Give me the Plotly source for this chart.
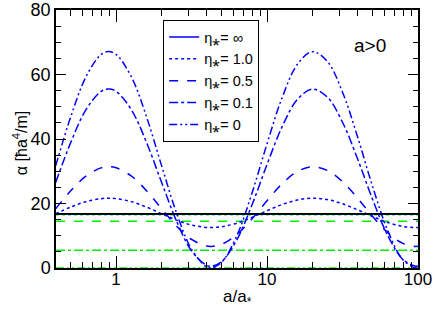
import plotly.graph_objects as go

# a/a* sample positions
a_ratio = [0.398, 0.501, 0.631, 0.794, 0.891, 1.0, 1.259, 1.585, 1.995, 2.512, 3.162,
           3.981, 4.266, 5.012, 6.310, 7.943, 10.0, 12.59, 15.85, 19.95, 25.12, 31.62,
           39.81, 50.12, 63.10, 79.43, 96.6, 100.0]

alpha_eta_1p0 = [16.83, 18.89, 20.56, 21.50, 21.62, 21.51, 20.58, 18.92, 16.87, 14.86, 13.33,
                 12.58, 12.54, 12.79, 13.90, 15.68, 17.76, 19.69, 21.08, 21.62, 21.21, 19.92,
                 18.04, 15.95, 14.11, 12.89, 12.54, 12.55]
alpha_eta_0p5 = [18.37, 23.95, 28.49, 31.05, 31.39, 31.07, 28.56, 24.04, 18.46, 13.01, 8.84,
                 6.81, 6.70, 7.37, 10.39, 15.23, 20.88, 26.14, 29.91, 31.38, 30.25, 26.76,
                 21.64, 15.96, 10.96, 7.64, 6.70, 6.73]
alpha_eta_0p1 = [26.52, 38.93, 49.05, 54.73, 55.49, 54.78, 49.18, 39.13, 26.73, 14.60, 5.30,
                 0.80, 0.55, 2.03, 8.75, 19.53, 32.11, 43.82, 52.20, 55.48, 52.96, 45.19,
                 33.80, 21.14, 10.02, 2.64, 0.55, 0.62]
alpha_eta_0 = [31.71, 46.87, 59.23, 66.17, 67.10, 66.23, 59.40, 47.11, 31.97, 17.15, 5.80,
               0.30, 0.00, 1.81, 10.02, 23.19, 38.54, 52.84, 63.08, 67.08, 64.02, 54.52,
               40.61, 25.15, 11.56, 2.55, 0.00, 0.08]
alpha_eta_inf = 16.78

# horizontal reference levels
x_ends = [0.4, 100.0]
black_level = 16.8
green_levels = [16.49, 14.53, 5.54, 0.0]

legend_labels = ["η⁎= ∞", "η⁎= 1.0", "η⁎= 0.5", "η⁎= 0.1", "η⁎= 0"]
x_tick_vals = [1, 10, 100]
x_tick_text = ["1", "10", "100"]
y_tick_vals = [0, 20, 40, 60, 80]

blue = "#0000ff"
green = "#00ee00"
dashes = ["dot", "dash", "dashdot", "8px,3px,2px,3px,2px,3px"]

fig = go.Figure()

for lvl, d in zip(green_levels, dashes):
    fig.add_trace(go.Scatter(x=x_ends, y=[lvl, lvl], mode="lines",
                             line=dict(color=green, width=1.5, dash=d), showlegend=False))

fig.add_trace(go.Scatter(x=x_ends, y=[alpha_eta_inf, alpha_eta_inf], mode="lines",
                         line=dict(color=blue, width=1.5), name=legend_labels[0]))

series = [alpha_eta_1p0, alpha_eta_0p5, alpha_eta_0p1, alpha_eta_0]
for lab, ys, d in zip(legend_labels[1:], series, dashes):
    fig.add_trace(go.Scatter(x=a_ratio, y=ys, mode="lines", name=lab,
                             line=dict(color=blue, width=1.5, dash=d, shape="spline", smoothing=1.0)))

fig.add_trace(go.Scatter(x=x_ends, y=[black_level, black_level], mode="lines",
                         line=dict(color="black", width=1.7), showlegend=False))

minor_x = [0.4, 0.5, 0.6, 0.7, 0.8, 0.9] + list(range(2, 10)) + list(range(20, 100, 10))

fig.update_layout(
    width=436, height=310,
    margin=dict(l=56, r=18, t=10, b=42),
    paper_bgcolor="white", plot_bgcolor="white",
    font=dict(family="Liberation Sans, Arial, sans-serif", color="black", size=17),
    showlegend=True,
    legend=dict(x=0.296, y=0.961, xanchor="left", yanchor="top",
                bgcolor="white", bordercolor="black", borderwidth=1,
                font=dict(size=14.5), tracegroupgap=0, itemwidth=30),
    xaxis=dict(type="log", range=[-0.398, 2.0], showgrid=False, zeroline=False,
               automargin=False, ticklabeloverflow="allow",
               showline=True, linecolor="black", linewidth=1.5, mirror="ticks",
               ticks="inside", ticklen=12, tickcolor="black", tickwidth=1,
               tickvals=x_tick_vals, ticktext=x_tick_text,
               tickfont=dict(size=17), ticklabelstandoff=-5,
               minor=dict(ticks="inside", ticklen=6, tickcolor="black", tickwidth=1,
                          tickvals=minor_x)),
    yaxis=dict(range=[0, 80], showgrid=False, zeroline=False,
               automargin=False, ticklabeloverflow="allow",
               showline=True, linecolor="black", linewidth=1.5, mirror="ticks",
               ticks="inside", ticklen=10, tickcolor="black", tickwidth=1,
               tickvals=y_tick_vals, tickfont=dict(size=18),
               minor=dict(ticks="inside", ticklen=5, tickcolor="black", tickwidth=1, dtick=5)),
    annotations=[
        dict(text="a>0", x=0.867, y=0.864, xref="paper", yref="paper",
             showarrow=False, font=dict(size=19), xanchor="center", yanchor="middle"),
        dict(text="α [ħa<sup>4</sup>/m]", x=-0.0994, y=0.484, xref="paper", yref="paper",
             textangle=-90, showarrow=False, font=dict(size=16),
             xanchor="center", yanchor="middle"),
        dict(text="a/a<sub>*</sub>", x=0.5, y=-0.116, xref="paper", yref="paper",
             showarrow=False, font=dict(size=17), xanchor="center", yanchor="middle"),
    ],
)

fig.write_html("out.html", config={"displayModeBar": False},
               post_script="document.body.style.margin='0';document.body.style.overflow='hidden';")
